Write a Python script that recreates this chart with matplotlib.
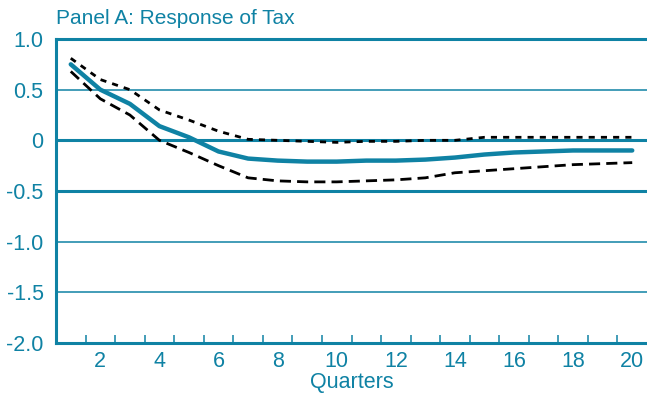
import matplotlib.pyplot as plt
import numpy as np

plt.rcParams['font.family'] = ['Liberation Sans', 'DejaVu Sans']

teal = '#0f82a4'

# impulse response of tax with its upper and lower bands
quarters = np.arange(1, 21)
response = [0.75, 0.50, 0.36, 0.14, 0.03, -0.11, -0.18, -0.20, -0.21, -0.21,
            -0.20, -0.20, -0.19, -0.17, -0.14, -0.12, -0.11, -0.10, -0.10, -0.10]
upper = [0.81, 0.60, 0.50, 0.30, 0.20, 0.09, 0.01, 0.00, -0.01, -0.02,
         -0.01, -0.01, 0.00, 0.00, 0.03, 0.03, 0.03, 0.03, 0.03, 0.03]
lower = [0.68, 0.41, 0.25, 0.00, -0.12, -0.25, -0.37, -0.40, -0.41, -0.41,
         -0.40, -0.39, -0.37, -0.32, -0.30, -0.28, -0.26, -0.24, -0.23, -0.22]

yticks = [1.0, 0.5, 0, -0.5, -1.0, -1.5, -2.0]
ylabels = ['1.0', '0.5', '0', '-0.5', '-1.0', '-1.5', '-2.0']
xticks = list(range(2, 21, 2))

fig = plt.figure(figsize=(6.47, 3.94), dpi=100)
ax = fig.add_axes([56 / 647, 51 / 394, 1 - 56 / 647, 304 / 394])

# horizontal rules: thin at some levels, heavy at zero and -0.5
for y in [0.5, -1.0, -1.5]:
    ax.axhline(y, color=teal, lw=1.1, zorder=1)
for y in [0, -0.5]:
    ax.axhline(y, color=teal, lw=2.2, zorder=1)

ax.plot(quarters, upper, color='black', lw=2.0, dashes=(2.2, 2.2), zorder=3)
ax.plot(quarters, lower, color='black', lw=2.0, dashes=(4, 2.2), zorder=3)
ax.plot(quarters, response, color=teal, lw=3.2, solid_capstyle='round', zorder=4)

ax.set_xlim(0.5, 20.5)
ax.set_ylim(-2.0, 1.0)

for s in ['left', 'bottom', 'top']:
    ax.spines[s].set_color(teal)
    ax.spines[s].set_linewidth(2.2)
ax.spines['right'].set_visible(False)

ax.set_yticks(yticks)
ax.set_yticklabels(ylabels)
ax.set_xticks(xticks)
ax.set_xticks(np.arange(1.5, 20.5, 1), minor=True)
ax.tick_params(axis='y', length=0, pad=9, labelcolor=teal, labelsize=15.5)
ax.tick_params(axis='x', which='major', length=0, pad=6, labelcolor=teal, labelsize=15.5)
ax.tick_params(axis='x', which='minor', direction='in', length=6, width=1.1, color=teal)

ax.set_xlabel('Quarters', color=teal, fontsize=15.5, labelpad=0)
fig.text(56 / 647, 1 - 18 / 394, 'Panel A: Response of Tax', color=teal,
         fontsize=15, ha='left', va='center')

fig.savefig('out.png', dpi=100)
